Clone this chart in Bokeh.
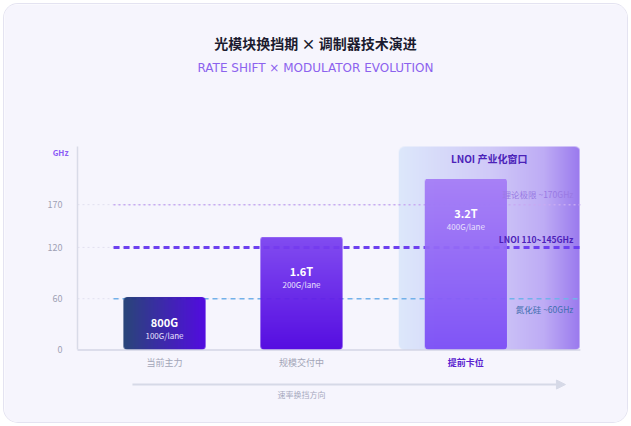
import numpy as np
from bokeh.plotting import figure
from bokeh.models import ColumnDataSource, LabelSet, Label, Arrow, NormalHead, FixedTicker
from bokeh.core.properties import value
from bokeh.embed import file_html
from bokeh.resources import INLINE

FONT = "Noto Sans CJK SC"

# data
categories = ["当前主力", "规模交付中", "提前卡位"]
rates = ["800G", "1.6T", "3.2T"]
lanes = ["100G/lane", "200G/lane", "400G/lane"]
ghz = [62, 132, 200]
x_pos = [1.0, 2.0, 3.2]
ref_levels = [170, 120, 60]
ref_labels = ["理论极限 ~170GHz", "LNOI 110~145GHz", "氮化硅 ~60GHz"]
y_ticks = [0, 60, 120, 170]
window_x = (2.71, 4.03)
window_top = 238

# plot area (axis at left, right end of the lines)
AX_L, AX_R = 0.365, 4.036
X0, X1 = -0.168, 4.380
Y0, Y1 = -84.8, 404.1
W, H = 623, 418
px_x = W / (X1 - X0)
px_y = H / (Y1 - Y0)
bar_w = 0.6


def gradient(w, h, stops, vertical, radius, alpha=1.0):
    w, h = int(round(w)), int(round(h))
    rows, cols = np.mgrid[0:h, 0:w]
    yy = rows + 0.5
    xx = cols + 0.5
    t = (1 - yy / h) if vertical else (xx / w)
    pos = [s[0] for s in stops]
    img = np.empty((h, w), dtype=np.uint32)
    view = img.view(dtype=np.uint8).reshape((h, w, 4))
    for k in range(3):
        view[:, :, k] = np.interp(t, pos, [s[1][k] for s in stops]).astype(np.uint8)
    dx = np.maximum(np.maximum(radius - xx, xx - (w - radius)), 0)
    dy = np.maximum(np.maximum(radius - yy, yy - (h - radius)), 0)
    a = np.clip(radius - np.hypot(dx, dy) + 0.5, 0, 1)
    view[:, :, 3] = (a * alpha * 255).astype(np.uint8)
    return img


p = figure(width=W, height=H, x_range=(X0, X1), y_range=(Y0, Y1),
           output_backend="svg", toolbar_location=None, title=None,
           min_border=0)
p.styles = {"margin": "4px", "border-radius": "14px", "overflow": "hidden",
            "box-shadow": "0 0 0 1px #e4e3f1"}
p.background_fill_color = "#f6f5fd"
p.border_fill_color = "#f6f5fd"
p.outline_line_color = None
p.xaxis.visible = False
p.xgrid.grid_line_color = None
p.ygrid.grid_line_color = None

p.yaxis.fixed_location = AX_L
p.yaxis.ticker = FixedTicker(ticks=y_ticks)
p.yaxis.bounds = (0, window_top)
p.yaxis.axis_line_color = "#d9dbe8"
p.yaxis.axis_line_width = 1.5
p.yaxis.major_tick_line_color = None
p.yaxis.minor_tick_line_color = None
p.yaxis.major_label_text_font = FONT
p.yaxis.major_label_text_font_size = "9px"
p.yaxis.major_label_text_color = "#9fa1b4"
p.yaxis.major_label_standoff = 9

# grid
grid_y = y_ticks[1:]
p.segment(x0=[AX_L] * len(grid_y), y0=grid_y, x1=[AX_R] * len(grid_y), y1=grid_y,
          line_color="#e1e0ef", line_width=1, line_dash="2 3")

# LNOI window
win = gradient((window_x[1] - window_x[0]) * px_x, window_top * px_y,
               [(0, (221, 232, 251)), (0.5, (208, 202, 248)), (0.8, (190, 172, 245)), (1, (154, 121, 238))],
               False, 6)
p.image_rgba(image=[win], x=window_x[0], y=0, dw=window_x[1] - window_x[0], dh=window_top)
p.add_layout(Label(x=(window_x[0] + window_x[1]) / 2, y=224, text="LNOI 产业化窗口", text_font=FONT,
                   text_font_size="10px", text_font_style="bold", text_color="#4b22b8",
                   text_align="center", text_baseline="middle"))

# reference lines
ref_styles = [("#c7aaf2", 1.5, "2 3"), ("#6d3ff0", 3, "6 4"), ("#72b1ea", 1.5, "5 4")]
ref_colors = ["#9a7ae4", "#4c1fb8", "#3f6fae"]
ref_offsets = [11, 8, -10]
for lvl, lab, (c, lw, dash), tc, off in zip(ref_levels, ref_labels, ref_styles, ref_colors, ref_offsets):
    p.segment(x0=0.628, y0=lvl, x1=AX_R, y1=lvl, line_color=c, line_width=lw, line_dash=dash)
    p.add_layout(Label(x=3.985, y=lvl, y_offset=off, text=lab, text_font=FONT, text_font_size="8.5px",
                       text_color=tc, text_align="right", text_baseline="middle",
                       text_font_style="bold" if lvl == 120 else "normal"))

# bars
bar_stops = [
    ([(0, (30, 60, 114)), (1, (74, 0, 224))], False),
    ([(0, (124, 68, 241)), (1, (78, 2, 224))], True),
    ([(0, (166, 126, 246)), (1, (124, 79, 247))], True),
]
imgs = [gradient(bar_w * px_x, v * px_y, st, vert, 4) for v, (st, vert) in zip(ghz, bar_stops)]
bars = ColumnDataSource(dict(image=imgs, x=[x - bar_w / 2 for x in x_pos], y=[0] * 3,
                             dw=[bar_w] * 3, dh=ghz))
p.image_rgba(image="image", x="x", y="y", dw="dw", dh="dh", source=bars, global_alpha=0.95)

lab_src = ColumnDataSource(dict(x=x_pos, y=[max(v / 2, v - 41) for v in ghz], rate=rates, lane=lanes))
p.add_layout(LabelSet(x="x", y="y", y_offset=1, text="rate", source=lab_src, text_font=value(FONT),
                      text_font_size="11px", text_font_style="bold", text_color="white",
                      text_align="center", text_baseline="middle"))
p.add_layout(LabelSet(x="x", y="y", y_offset=-12, text="lane", source=lab_src, text_font=value(FONT),
                      text_font_size="8px", text_color="#e8e0fd",
                      text_align="center", text_baseline="middle"))

# baseline and category labels
p.segment(x0=AX_L, y0=0, x1=AX_R, y1=0, line_color="#d3d5e4", line_width=1.5)
cat_src = ColumnDataSource(dict(x=x_pos, y=[-14.6] * 3, text=categories,
                                color=["#a3a5b8", "#a3a5b8", "#5a1fd0"],
                                style=["normal", "normal", "bold"]))
p.add_layout(LabelSet(x="x", y="y", text="text", source=cat_src, text_font=value(FONT),
                      text_font_size="9px", text_color="color", text_font_style="style",
                      text_align="center", text_baseline="middle"))

# direction arrow
p.add_layout(Arrow(x_start=0.766, y_start=-40.4, x_end=3.927, y_end=-40.4, line_color="#d6d9e7",
                   line_width=2, end=NormalHead(size=9, fill_color="#d6d9e7", line_color="#d6d9e7")))
p.add_layout(Label(x=2.0, y=-52, text="速率换挡方向", text_font=FONT, text_font_size="8px",
                   text_color="#a6a9bd", text_align="center", text_baseline="middle"))

# titles and unit
p.add_layout(Label(x=2.102, y=359.6, text="光模块换挡期 × 调制器技术演进", text_font=FONT,
                   text_font_size="14px", text_font_style="bold", text_color="#1b1b2f",
                   text_align="center", text_baseline="middle"))
p.add_layout(Label(x=2.102, y=330.4, text="RATE SHIFT × MODULATOR EVOLUTION", text_font="DejaVu Sans",
                   text_font_size="12px", text_color="#8c62ee",
                   text_align="center", text_baseline="middle"))
p.add_layout(Label(x=AX_L, x_offset=-9, y=231, text="GHz", text_font=FONT, text_font_size="8px",
                   text_font_style="bold", text_color="#8b5cf6",
                   text_align="right", text_baseline="middle"))

open("out.html", "w").write(file_html(p, INLINE))
